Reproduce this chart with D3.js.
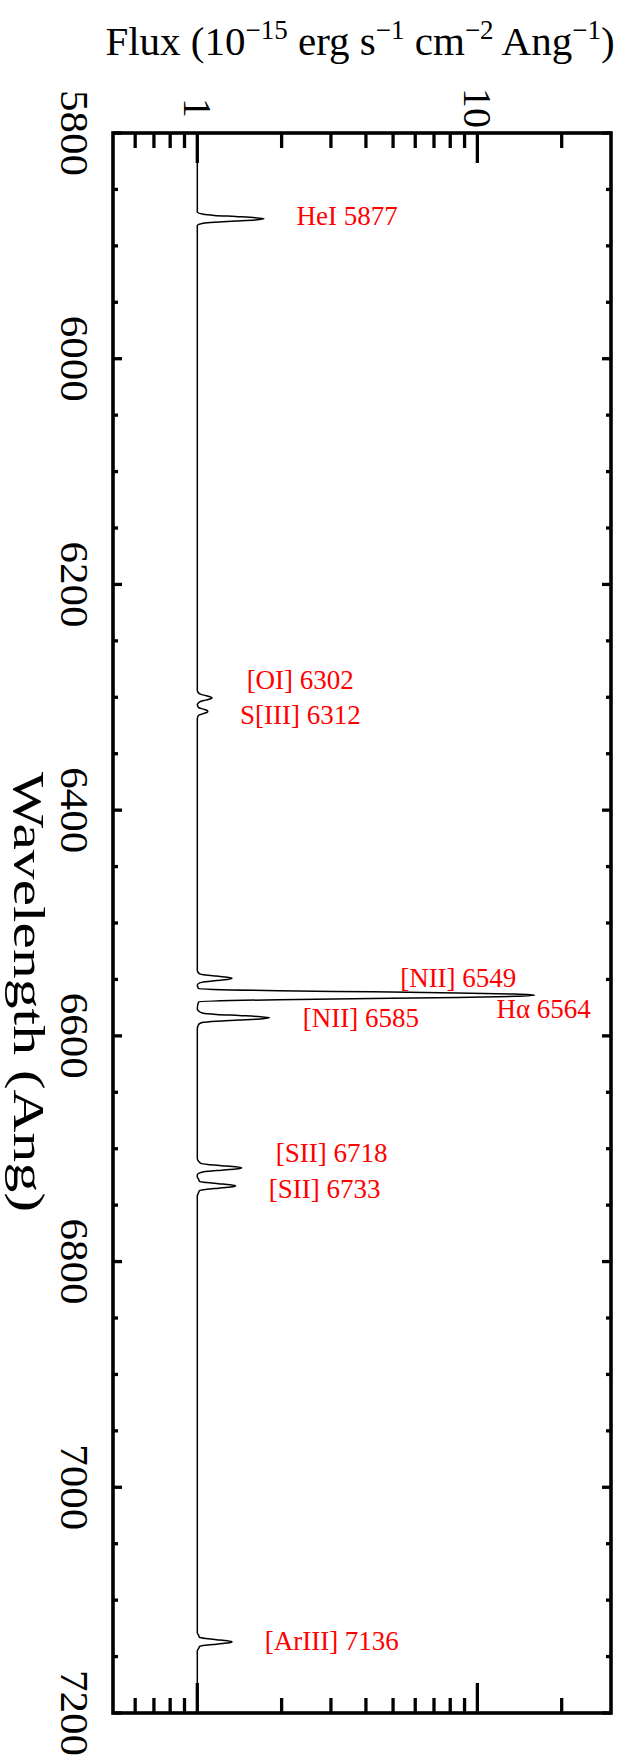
<!DOCTYPE html>
<html>
<head>
<meta charset="utf-8">
<script src="https://cdn.jsdelivr.net/npm/d3@7"></script>
<style>
  body { margin: 0; background: #fff; }
  svg text { font-family: "Liberation Serif", "Times New Roman", serif; }
</style>
</head>
<body>
<script>
// spectrum (wavelength in Ang, flux in 1e-15 cgs)
const wavelength = [
    5800, 5860, 5870, 5872, 5873, 5874, 5875, 5876, 5877, 5878, 5879, 5880, 5882,
    6294, 6297, 6298.5, 6299.5, 6300.5, 6301.5, 6302.5, 6304, 6306.5,
    6309, 6310.5, 6311.5, 6312.5, 6313.5, 6314.5, 6316, 6319,
    6542, 6545, 6546, 6547, 6548, 6549, 6550, 6551, 6552, 6553, 6555,
    6558, 6560, 6561, 6562, 6563, 6564, 6565, 6566, 6567, 6568, 6570,
    6576, 6578, 6580, 6581, 6582, 6583, 6584, 6585, 6586, 6587, 6588, 6590, 6594,
    6709, 6711, 6713, 6714, 6715, 6716, 6717, 6718, 6719, 6720, 6721, 6723,
    6725, 6727, 6729, 6730, 6731, 6732, 6733, 6734, 6735, 6736, 6737, 6739, 6742,
    7129, 7131, 7133, 7134, 7135, 7136, 7137, 7138, 7139, 7140, 7141, 7143, 7145, 7200
];
const flux = [
    1.00, 1.00, 1.00, 1.05, 1.15, 1.37, 1.61, 1.73, 1.61, 1.37, 1.15, 1.05, 1.00,
    1.00, 1.02, 1.07, 1.11, 1.13, 1.11, 1.07, 1.02, 1.00,
    1.01, 1.05, 1.08, 1.09, 1.08, 1.05, 1.01, 1.00,
    1.00, 1.02, 1.07, 1.17, 1.28, 1.33, 1.28, 1.17, 1.07, 1.02, 1.00,
    1.01, 1.95, 4.2, 8.5, 13.6, 16.0, 13.6, 8.5, 4.2, 1.95, 1.01,
    1.00, 1.01, 1.05, 1.17, 1.41, 1.68, 1.81, 1.68, 1.41, 1.17, 1.05, 1.01, 1.00,
    1.00, 1.01, 1.03, 1.09, 1.22, 1.37, 1.44, 1.37, 1.22, 1.09, 1.03, 1.00,
    1.00, 1.01, 1.02, 1.08, 1.19, 1.31, 1.37, 1.31, 1.19, 1.08, 1.02, 1.01, 1.00,
    1.00, 1.01, 1.02, 1.07, 1.17, 1.28, 1.33, 1.28, 1.17, 1.07, 1.02, 1.01, 1.00, 1.00
];

// line ids: text, wavelength of baseline, flux where text starts
const lineNames = ["HeI 5877", "[OI] 6302", "S[III] 6312", "[NII] 6549",
    "H\u03b1 6564", "[NII] 6585", "[SII] 6718", "[SII] 6733", "[ArIII] 7136"];
const lineLabelWave = [5881.5, 6292.6, 6323.7, 6556.7, 6584, 6592, 6711.7, 6743.6, 7144];
const lineLabelFlux = [2.26, 1.50, 1.42, 5.3, 11.7, 2.38, 1.905, 1.8, 1.74];

const fluxMajorTicks = [1, 10];
const fluxMinorTicks = [0.6, 0.7, 0.8, 0.9, 2, 3, 4, 5, 6, 7, 8, 9, 20];
const waveMajorTicks = [5800, 6000, 6200, 6400, 6600, 6800, 7000, 7200];
const waveMinorTicks = d3.range(5850, 7200, 50).filter(v => v % 200 !== 0);

const w = 619, h = 1758;
const plotL = 113, plotR = 611, plotT = 133, plotB = 1713;

const svg = d3.select('body').append('svg')
    .attr('width', w)
    .attr('height', h);

const x = d3.scaleLog()
    .domain([0.5, 30])
    .range([plotL, plotR]);

const y = d3.scaleLinear()
    .domain([5800, 7200])
    .range([plotT, plotB]);

// ticks, drawn inward on all four sides
const tickG = svg.append('g')
    .attr('stroke', '#000')
    .attr('stroke-width', 3.3);

function xTicks(vals, len) {
    vals.forEach(v => {
        tickG.append('line').attr('x1', x(v)).attr('x2', x(v)).attr('y1', plotT).attr('y2', plotT + len);
        tickG.append('line').attr('x1', x(v)).attr('x2', x(v)).attr('y1', plotB).attr('y2', plotB - len);
    });
}
function yTicks(vals, len) {
    vals.forEach(v => {
        tickG.append('line').attr('y1', y(v)).attr('y2', y(v)).attr('x1', plotL).attr('x2', plotL + len);
        tickG.append('line').attr('y1', y(v)).attr('y2', y(v)).attr('x1', plotR).attr('x2', plotR - len);
    });
}
xTicks(fluxMajorTicks, 30);
xTicks(fluxMinorTicks, 15);
yTicks(waveMajorTicks, 9);
yTicks(waveMinorTicks, 5);

// frame
svg.append('rect')
    .attr('x', plotL)
    .attr('y', plotT)
    .attr('width', plotR - plotL)
    .attr('height', plotB - plotT)
    .attr('fill', 'none')
    .attr('stroke', '#000')
    .attr('stroke-width', 3.6);

// spectrum
const spectrum = d3.zip(wavelength, flux);
const line = d3.line()
    .x(d => x(d[1]))
    .y(d => y(d[0]))
    .curve(d3.curveMonotoneY);

svg.append('path')
    .datum(spectrum)
    .attr('d', line)
    .attr('fill', 'none')
    .attr('stroke', '#000')
    .attr('stroke-width', 1.5);

// tick labels, rotated like the rest of the plot
svg.selectAll('.ylab')
    .data(waveMajorTicks)
    .enter().append('text')
    .attr('class', 'ylab')
    .attr('transform', d => `translate(61,${y(d)}) rotate(90)`)
    .attr('text-anchor', 'middle')
    .attr('font-size', 40)
    .attr('textLength', 86)
    .attr('lengthAdjust', 'spacingAndGlyphs')
    .text(d => d);

svg.selectAll('.xlab')
    .data(fluxMajorTicks)
    .enter().append('text')
    .attr('class', 'xlab')
    .attr('transform', d => `translate(${x(d) - 13},108) rotate(90)`)
    .attr('text-anchor', 'middle')
    .attr('font-size', 40)
    .text(d => d);

// axis titles
svg.append('text')
    .attr('transform', `translate(14,992) rotate(90)`)
    .attr('text-anchor', 'middle')
    .attr('font-size', 45)
    .attr('textLength', 440)
    .attr('lengthAdjust', 'spacingAndGlyphs')
    .text('Wavelength (Ang)');

const title = svg.append('text')
    .attr('x', 360)
    .attr('y', 55)
    .attr('text-anchor', 'middle')
    .attr('font-size', 41);
title.append('tspan').text('Flux (10');
title.append('tspan').attr('dy', -16).attr('font-size', 27).text('\u221215');
title.append('tspan').attr('dy', 16).text(' erg s');
title.append('tspan').attr('dy', -16).attr('font-size', 27).text('\u22121');
title.append('tspan').attr('dy', 16).text(' cm');
title.append('tspan').attr('dy', -16).attr('font-size', 27).text('\u22122');
title.append('tspan').attr('dy', 16).text(' Ang');
title.append('tspan').attr('dy', -16).attr('font-size', 27).text('\u22121');
title.append('tspan').attr('dy', 16).text(')');

// emission line ids
svg.selectAll('.lineid')
    .data(lineNames)
    .enter().append('text')
    .attr('class', 'lineid')
    .attr('x', (d, i) => x(lineLabelFlux[i]))
    .attr('y', (d, i) => y(lineLabelWave[i]))
    .attr('fill', 'red')
    .attr('font-size', 27)
    .text(d => d);
</script>
</body>
</html>
